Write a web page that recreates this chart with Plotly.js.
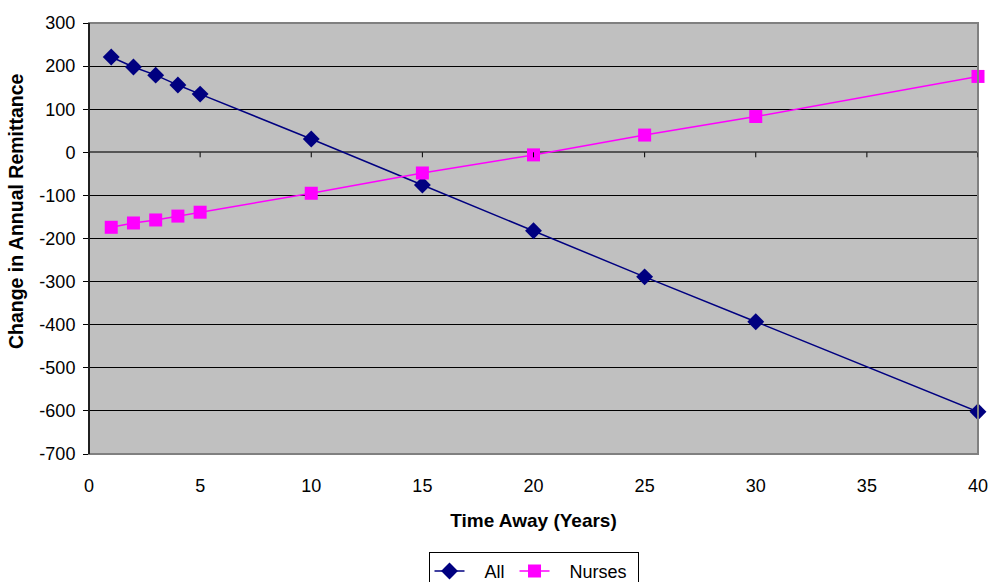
<!DOCTYPE html>
<html>
<head>
<meta charset="utf-8">
<script src="https://cdn.plot.ly/plotly-3.0.1.min.js"></script>
<style>html,body{margin:0;padding:0;background:#fff;}#chart{width:990px;height:582px;}</style>
</head>
<body>
<div id="chart"></div>
<script>
const years = [1, 2, 3, 4, 5, 10, 15, 20, 25, 30, 40];
const allValues = [221, 198, 179, 156, 135, 31, -76, -182, -289, -393, -602];
const nursesValues = [-174, -164, -157, -148, -139, -95, -48, -6, 40, 83, 176];
const xTicks = [0, 5, 10, 15, 20, 25, 30, 35, 40];
const yTicks = [300, 200, 100, 0, -100, -200, -300, -400, -500, -600, -700];
const seriesNames = ['All', 'Nurses'];

const font = 'Liberation Sans, Arial, sans-serif';
const lead = '\u00a0\u00a0\u00a0';
const trail = '\u00a0';

const traces = [
  {
    x: years, y: allValues, name: lead + seriesNames[0] + trail, type: 'scatter', mode: 'lines+markers',
    cliponaxis: false,
    line: {color: '#000080', width: 1.5},
    marker: {symbol: 'diamond', size: 13, color: '#000080'}
  },
  {
    x: years, y: nursesValues, name: lead + seriesNames[1] + trail, type: 'scatter', mode: 'lines+markers',
    cliponaxis: false,
    line: {color: '#FF00FF', width: 1.5},
    marker: {symbol: 'square', size: 13, color: '#FF00FF'}
  }
];

const tickShapes = xTicks.map(v => ({
  type: 'line', xref: 'x', yref: 'y', ysizemode: 'pixel', yanchor: 0,
  x0: v, x1: v, y0: 0, y1: -5, line: {color: '#000', width: 1}
}));

const layout = {
  width: 990, height: 582,
  margin: {l: 89, r: 12, t: 23, b: 128, autoexpand: false},
  paper_bgcolor: '#fff',
  plot_bgcolor: '#C0C0C0',
  font: {family: font, size: 18, color: '#000'},
  showlegend: true,
  legend: {
    orientation: 'h', x: 0.5, xanchor: 'center', y: -0.227, yanchor: 'top',
    bordercolor: '#000', borderwidth: 1, bgcolor: '#fff',
    font: {family: font, size: 18}, tracegroupgap: 0
  },
  xaxis: {
    range: [0, 40], tickvals: xTicks, ticktext: xTicks.map(String),
    ticks: '', showgrid: false, zeroline: false, showline: false,
    ticklabelstandoff: 19, automargin: false,
    title: {text: '<b>Time Away (Years)</b>', font: {family: font, size: 19}, standoff: 18}
  },
  yaxis: {
    range: [-700, 300], tickvals: yTicks, ticktext: yTicks.map(String),
    ticks: 'outside', ticklen: 5, tickcolor: '#000', tickwidth: 1,
    showgrid: true, gridcolor: '#000', gridwidth: 1,
    zeroline: true, zerolinecolor: '#555', zerolinewidth: 2,
    showline: true, linecolor: '#000', linewidth: 1,
    ticklabelstandoff: 4, automargin: false
  },
  shapes: [
    {type: 'rect', xref: 'paper', yref: 'paper', x0: 0, x1: 1, y0: 0, y1: 1,
     line: {color: '#808080', width: 2}, layer: 'above'},
    {type: 'line', xref: 'paper', yref: 'paper', x0: 0, x1: 0, y0: 0, y1: 1,
     line: {color: '#000', width: 1.5}, layer: 'above'}
  ].concat(tickShapes),
  annotations: [
    {text: '<b>Change in Annual Remittance</b>', textangle: -90,
     xref: 'paper', yref: 'paper', x: -0.082, xanchor: 'center',
     y: (454 - 351) / 431, yanchor: 'bottom', showarrow: false,
     font: {family: font, size: 19.5, color: '#000'}}
  ]
};

Plotly.newPlot('chart', traces, layout, {displayModeBar: false, staticPlot: true});
</script>
</body>
</html>
